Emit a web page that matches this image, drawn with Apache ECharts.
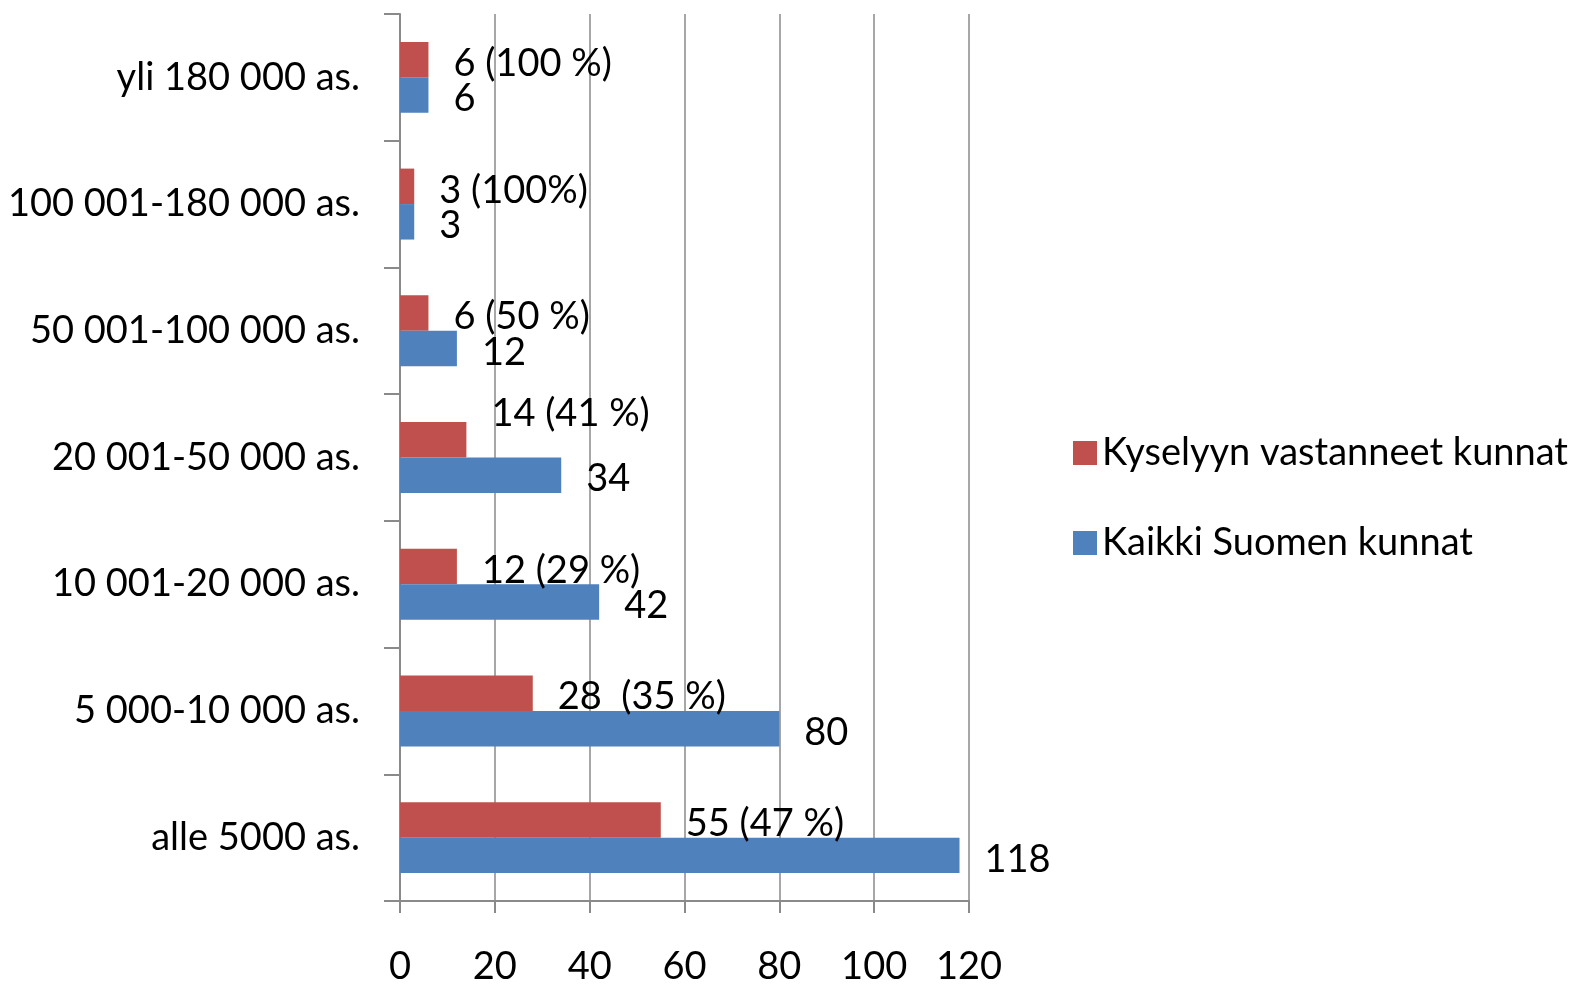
<!DOCTYPE html>
<html>
<head>
<meta charset="utf-8">
<script src="https://cdn.jsdelivr.net/npm/echarts@6/dist/echarts.min.js"></script>
<style>
  html, body { margin: 0; padding: 0; background: #fff; }
  #main { width: 1584px; height: 987px; }
</style>
</head>
<body>
<div id="main"></div>
<script>
// categories from bottom to top
const categories = ['alle 5000 as.', '5 000-10 000 as.', '10 001-20 000 as.', '20 001-50 000 as.', '50 001-100 000 as.', '100 001-180 000 as.', 'yli 180 000 as.'];
const answered = [55, 28, 12, 14, 6, 3, 6];
const answeredLabels = ['55 (47 %)', '28  (35 %)', '12 (29 %)', '14 (41 %)', '6 (50 %)', '3 (100%)', '6 (100 %)'];
const allMunicipalities = [118, 80, 42, 34, 12, 3, 6];
const xTicks = [0, 20, 40, 60, 80, 100, 120];

const FONT = 'Lato, "Open Sans", sans-serif';
const FS = 38;

let myChart = echarts.init(document.getElementById('main'));

let option = {
  animation: false,
  textStyle: { fontFamily: FONT },
  legend: {
    orient: 'vertical',
    left: 1068,
    top: 427,
    itemWidth: 24,
    itemHeight: 24,
    itemGap: 48,
    icon: 'rect',
    data: ['Kyselyyn vastanneet kunnat', 'Kaikki Suomen kunnat'],
    textStyle: { fontSize: FS, color: '#000', fontFamily: FONT, lineHeight: 42 }
  },
  grid: { left: 400, right: 615, top: 14, bottom: 86 },
  xAxis: {
    type: 'value',
    min: xTicks[0],
    max: xTicks[xTicks.length - 1],
    interval: 20,
    axisLine: { show: true, lineStyle: { color: '#8a8a8a', width: 2 } },
    axisTick: { show: true, length: 12, lineStyle: { color: '#8a8a8a', width: 2 } },
    axisLabel: { fontSize: FS, color: '#000', margin: 47, fontFamily: FONT },
    splitLine: { show: true, lineStyle: { color: '#8a8a8a', width: 1.5 } }
  },
  yAxis: {
    type: 'category',
    data: categories,
    axisLine: { show: true, lineStyle: { color: '#8a8a8a', width: 2 } },
    axisTick: { show: true, length: 16, lineStyle: { color: '#8a8a8a', width: 2 } },
    axisLabel: { fontSize: FS, color: '#000', margin: 40, fontFamily: FONT }
  },
  series: [
    {
      name: 'Kyselyyn vastanneet kunnat',
      type: 'bar',
      data: answered.map((v, i) => ({
        value: v,
        label: i === 3 ? { offset: [0, -26] } : undefined
      })),
      itemStyle: { color: '#C0504D' },
      barGap: '0%',
      barCategoryGap: '44%',
      label: {
        show: true, position: 'right', distance: 25, offset: [0, 4], fontSize: FS, color: '#000', fontFamily: FONT,
        formatter: p => answeredLabels[p.dataIndex]
      }
    },
    {
      name: 'Kaikki Suomen kunnat',
      type: 'bar',
      data: allMunicipalities,
      itemStyle: { color: '#4F81BD' },
      barGap: '0%',
      barCategoryGap: '44%',
      label: { show: true, position: 'right', distance: 25, offset: [0, 4], fontSize: FS, color: '#000', fontFamily: FONT }
    }
  ]
};

myChart.setOption(option);
window.onresize = function () {
  myChart.resize();
};
</script>
</body>
</html>
